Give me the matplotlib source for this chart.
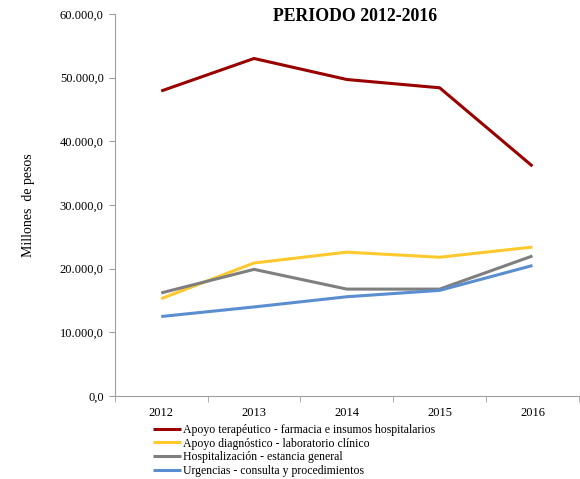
import matplotlib.pyplot as plt
from matplotlib.ticker import FuncFormatter

plt.rcParams["font.family"] = ["Liberation Serif", "DejaVu Serif"]

years = ["2012", "2013", "2014", "2015", "2016"]
series_names = [
    "Apoyo terapéutico - farmacia e insumos hospitalarios",
    "Apoyo diagnóstico - laboratorio clínico",
    "Hospitalización - estancia general",
    "Urgencias - consulta y procedimientos",
]
terapeutico = [47900, 53000, 49700, 48400, 36100]
diagnostico = [15300, 20900, 22600, 21800, 23400]
hospitalizacion = [16200, 19900, 16800, 16800, 22000]
urgencias = [12500, 14000, 15600, 16600, 20500]
colors = ["#990000", "#FFC92E", "#7F7F7F", "#5B8ED0"]


def miles(v, pos):
    s = f"{v:,.1f}"
    return s.replace(",", "X").replace(".", ",").replace("X", ".")


fig = plt.figure(figsize=(5.8, 4.79), dpi=100)
ax = fig.add_axes([0.198, 0.173, 0.80, 0.798])

x = list(range(len(years)))
for vals, name, c in zip([terapeutico, diagnostico, hospitalizacion, urgencias],
                         series_names, colors):
    ax.plot(x, vals, color=c, lw=2.2, label=name, solid_capstyle="butt")

ax.set_ylim(0, 60000)
ax.set_yticks(range(0, 60001, 10000))
ax.yaxis.set_major_formatter(FuncFormatter(miles))
ax.set_xlim(-0.5, 4.5)
ax.set_xticks(x)
ax.set_xticklabels(years)
ax.set_xticks([i - 0.5 for i in range(len(years) + 1)], minor=True)
ax.tick_params(axis="x", which="major", length=0, pad=8, labelsize=9)
ax.tick_params(axis="x", which="minor", length=4, color="#A0A0A0")
ax.tick_params(axis="y", length=4, color="#A0A0A0", labelsize=9, pad=4)

for side in ("top", "right"):
    ax.spines[side].set_visible(False)
for side in ("left", "bottom"):
    ax.spines[side].set_color("#A0A0A0")

ax.set_ylabel("Millones  de pesos", fontsize=10, labelpad=18)
fig.text(0.613, 0.966, "PERIODO 2012-2016", ha="center", va="center",
         fontsize=12.8, fontweight="bold")

ax.legend(loc="upper left", bbox_to_anchor=(0.073, -0.06), frameon=False,
          fontsize=8.5, handlelength=2.3, handletextpad=0.2,
          labelspacing=0.15, borderaxespad=0)

fig.savefig("out.png", dpi=100)
